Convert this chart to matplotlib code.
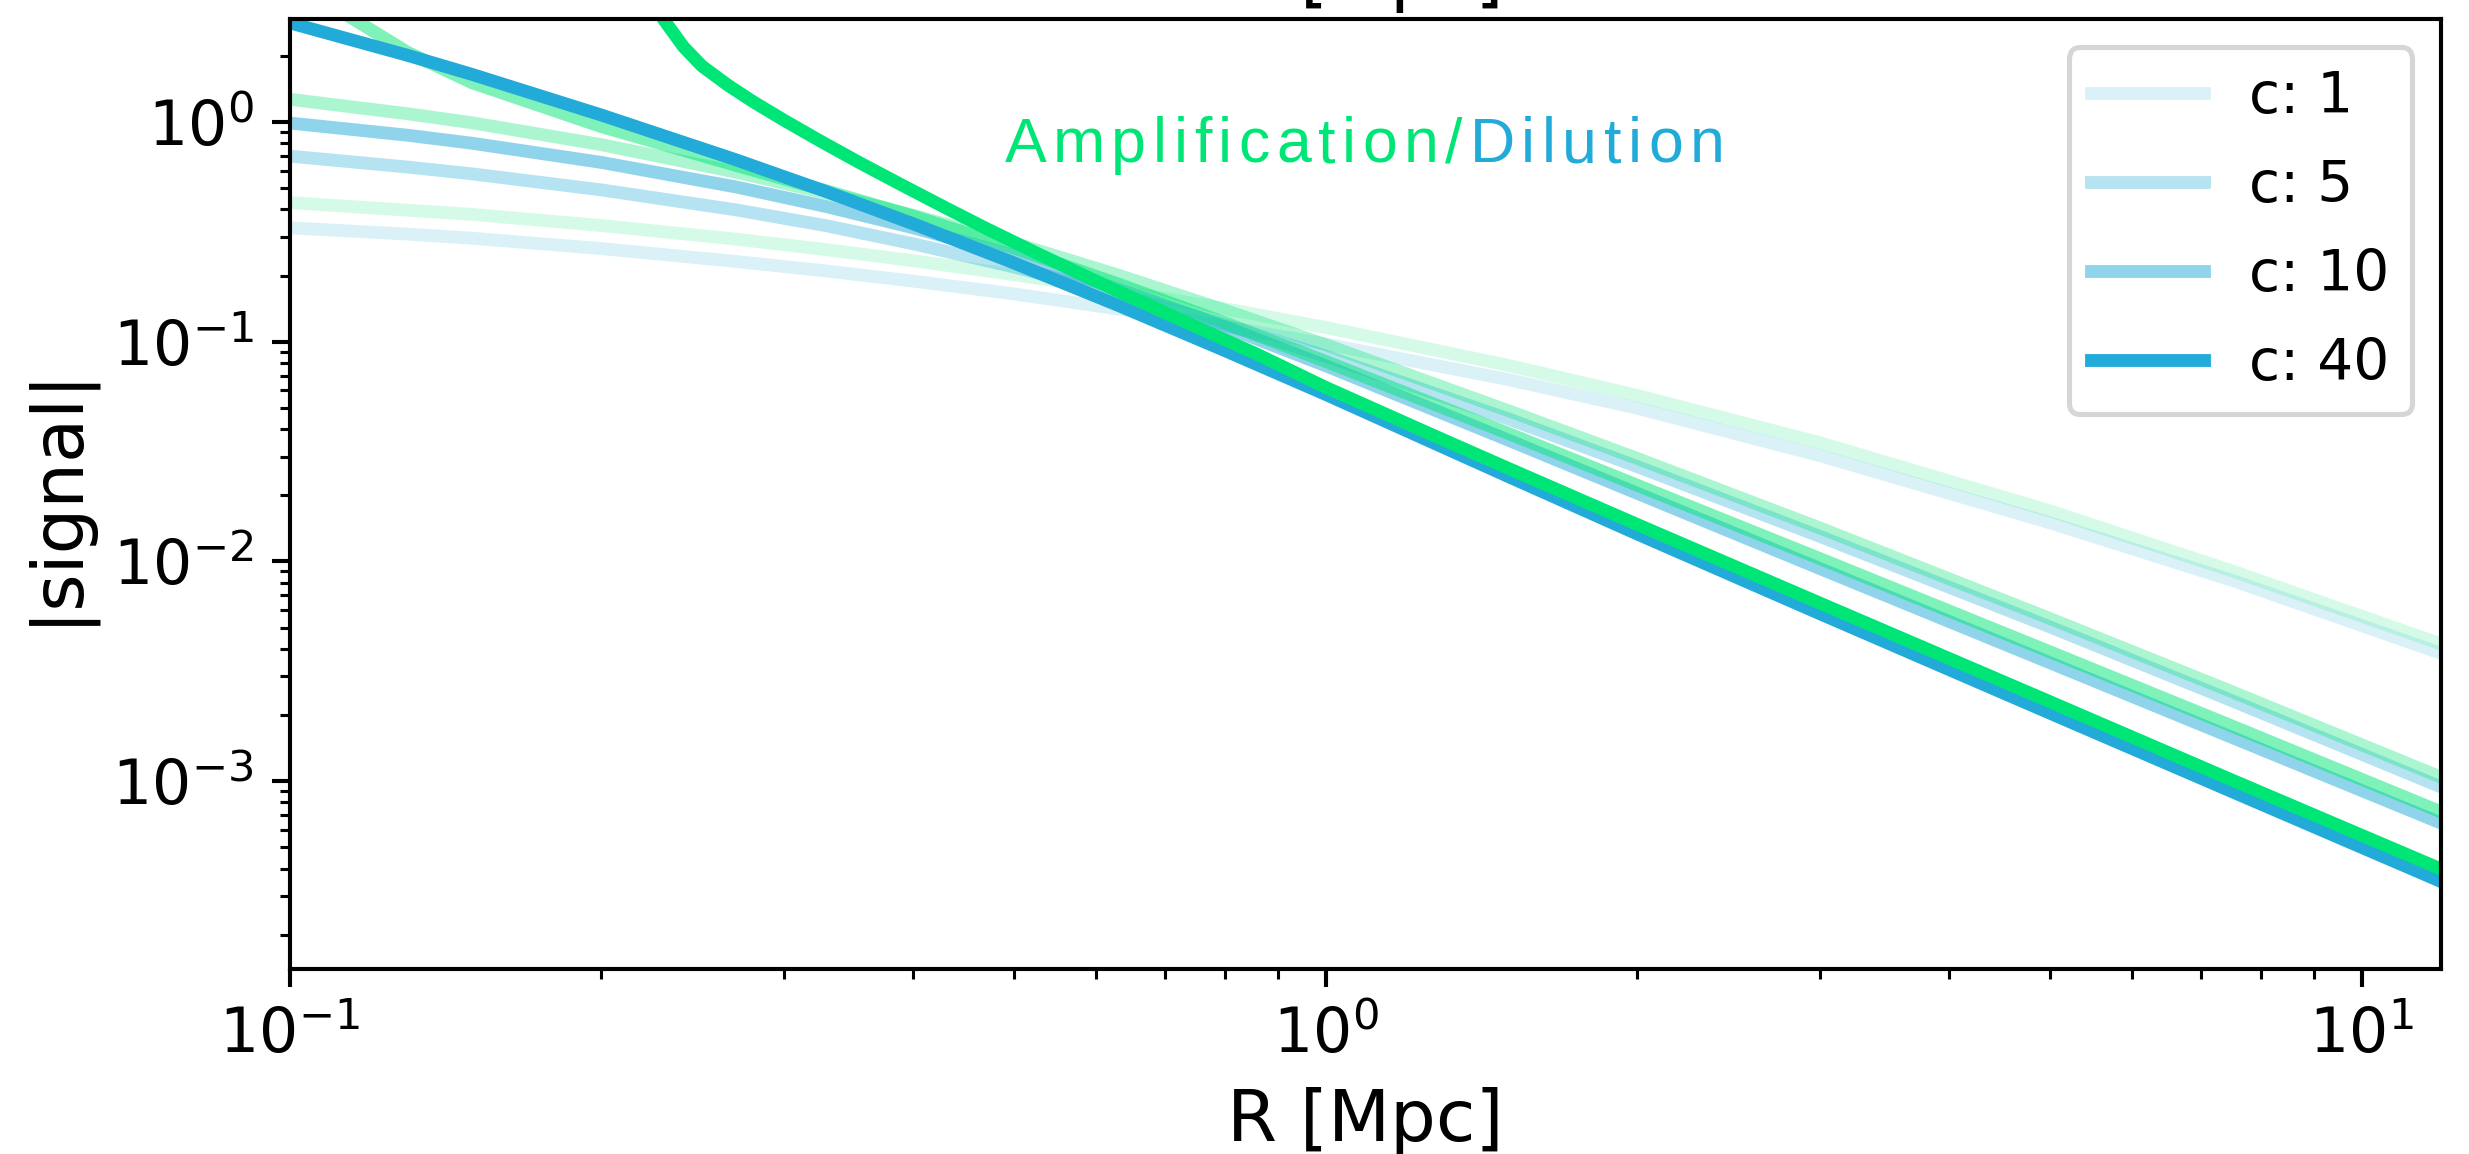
import matplotlib
matplotlib.use("Agg")
import matplotlib.pyplot as plt
from matplotlib import font_manager
from matplotlib.ft2font import FT2Font
from matplotlib.transforms import ScaledTranslation

R = [0.1, 0.13, 0.15, 0.2, 0.27, 0.33, 0.4, 0.5, 0.63, 0.8, 1.0, 1.5, 2.0, 3.0, 5.0, 7.5, 12.0]

concentrations = [1, 5, 10, 40]
alphas = [0.16, 0.33, 0.5, 1.0]

# dilution (blue)
dil_c1 = [0.33, 0.309, 0.296, 0.2654, 0.2318, 0.2098, 0.1887, 0.1651, 0.1411, 0.1174, 0.0977,
          0.0673, 0.0498, 0.0303, 0.015, 0.0082, 0.00378]
dil_c5 = [0.70, 0.624, 0.581, 0.491, 0.398, 0.337, 0.279, 0.219, 0.1655, 0.1196, 0.086,
          0.0446, 0.027, 0.013, 0.00504, 0.00232, 0.00093]
dil_c10 = [0.99, 0.871, 0.801, 0.655, 0.506, 0.412, 0.33, 0.247, 0.1745, 0.1168, 0.0778,
           0.0357, 0.0204, 0.00928, 0.00346, 0.00158, 0.000637]
dil_c40 = [2.83, 2.012, 1.648, 1.076, 0.672, 0.4815, 0.344, 0.2286, 0.1467, 0.091, 0.0576,
           0.02438, 0.01332, 0.00578, 0.00204, 0.000895, 0.000345]

# amplification (green)
amp_c1 = [0.43, 0.397, 0.38, 0.338, 0.293, 0.2625, 0.2338, 0.2021, 0.1713, 0.1414, 0.1162,
          0.0781, 0.0569, 0.0347, 0.017, 0.00905, 0.00417]
amp_c5 = [1.27, 1.091, 0.9925, 0.789, 0.591, 0.474, 0.376, 0.2816, 0.2014, 0.1391, 0.0969,
          0.0486, 0.0294, 0.0142, 0.0055, 0.00255, 0.00103]
amp_c10 = [4.44, 2.077, 1.51, 0.953, 0.634, 0.486, 0.373, 0.267, 0.1835, 0.1217, 0.0814,
           0.0383, 0.0222, 0.0103, 0.00388, 0.00178, 0.000716]
# c=40 blows up near 0.2 Mpc, read on its own radii
R_c40 = [0.22, 0.23, 0.24, 0.25, 0.265, 0.28, 0.3, 0.325, 0.355, 0.39, 0.43, 0.47,
         0.53, 0.6, 0.7, 0.86, 1.0, 1.28, 1.5, 2.0, 3.0, 5.0, 7.5, 12.0]
amp_c40 = [4.0, 2.9, 2.2, 1.8, 1.47, 1.24, 1.02, 0.8215, 0.653, 0.5164, 0.4065, 0.3284,
           0.249, 0.189, 0.1353, 0.0874, 0.062, 0.0369, 0.02655, 0.01471, 0.00646, 0.0023,
           0.00101, 0.000393]

dilution = [dil_c1, dil_c5, dil_c10, dil_c40]
amplification = [amp_c1, amp_c5, amp_c10, amp_c40]
amp_radii = [R, R, R, R_c40]

blue = '#22aad8'
green = '#00e676'

fig = plt.figure(figsize=(2469 / 370, 1154 / 370), dpi=370)
ax = fig.add_axes([0.1173, 0.1603, 0.8712, 0.8232])

for c, a, dil, amp, ra in zip(concentrations, alphas, dilution, amplification, amp_radii):
    ax.plot(R, dil, color=blue, alpha=a, lw=2.5, label=f'c: {c}')
    ax.plot(ra, amp, color=green, alpha=a, lw=2.5)

ax.set_xscale('log')
ax.set_yscale('log')
ax.set_xlim(0.1, 11.92)
ax.set_ylim(1.395e-4, 2.944)
ax.tick_params(labelsize=12)
ax.set_xlabel('R [Mpc]', fontsize=14)
ax.set_ylabel('|signal|', fontsize=14)
ax.legend(loc='upper right', fontsize=11, labelspacing=0.6)

# xlabel of the panel above, cut by the top edge
fig.text(0.5529, 1.002, 'R [Mpc]', ha='center', va='baseline', fontsize=14)


# letter-spaced two-colour annotation
def tracked_text(x, y, parts, size, track, family):
    ft = FT2Font(font_manager.findfont(family), hinting_factor=1)
    ft.set_size(size, 72)
    off = 0.0
    for s, col in parts:
        for ch in s:
            tr = fig.transFigure + ScaledTranslation(off / 72, 0, fig.dpi_scale_trans)
            fig.text(x, y, ch, transform=tr, fontsize=size, family=family, color=col,
                     ha='left', va='baseline')
            off += ft.load_char(ord(ch)).linearHoriAdvance / 65536 + track


tracked_text(0.407, 0.8596, [('Amplification/', green), ('Dilution', blue)],
             12.2, 1.36, 'Liberation Sans')

fig.savefig('out.png', dpi=370)
